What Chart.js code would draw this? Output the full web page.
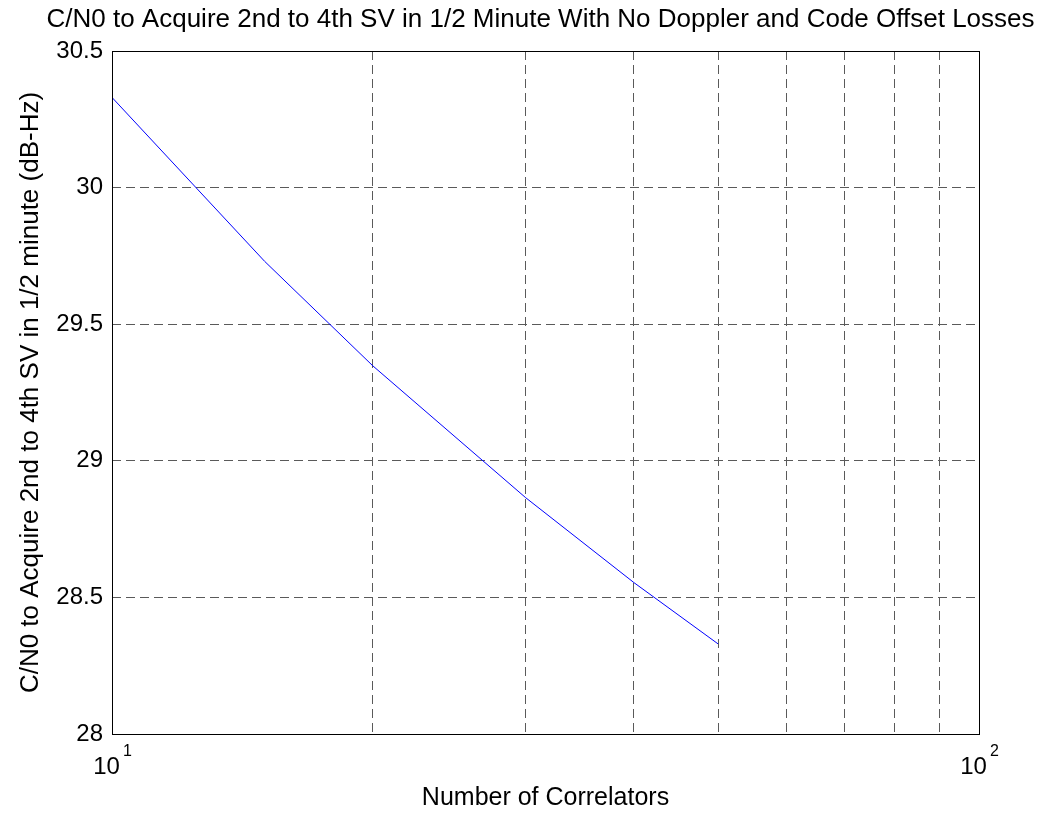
<!DOCTYPE html>
<html>
<head>
<meta charset="utf-8">
<script src="https://cdn.jsdelivr.net/npm/chart.js@4"></script>
<style>
  html, body { margin: 0; padding: 0; background: #fff; }
  #wrap { width: 1043px; height: 814px; }
</style>
</head>
<body>
<div id="wrap"><canvas id="graph_cn0"></canvas></div>
<script>
// data
const correlators = [10, 15, 20, 30, 40, 50];
const cn0Values = [30.33, 29.73, 29.347, 28.865, 28.554, 28.33];
const yTicks = [28, 28.5, 29, 29.5, 30, 30.5];
const xGridTicks = [10, 20, 30, 40, 50, 60, 70, 80, 90, 100];
const xDecades = [10, 100];
const titleText = 'C/N0 to Acquire 2nd to 4th SV in 1/2 Minute With No Doppler and Code Offset Losses';

const FONT = "'Liberation Sans', Arial, sans-serif";

const canvas_cn0 = document.getElementById('graph_cn0');
const ctx_cn0 = canvas_cn0.getContext('2d');

// box around the axes, title over the axes, 10^n labels with superscripts
const matlabAxes = {
  id: 'matlabAxes',
  afterDraw(chart) {
    const c = chart.ctx;
    const a = chart.chartArea;
    const xs = chart.scales.x;
    c.save();
    c.strokeStyle = '#000';
    c.lineWidth = 1;
    c.strokeRect(a.left + 0.5, a.top + 0.5, a.right - a.left, a.bottom - a.top);
    c.fillStyle = '#000';

    c.font = '26px ' + FONT;
    c.textAlign = 'center';
    c.textBaseline = 'middle';
    c.fillText(titleText, (a.left + a.right) / 2 - 5, 20);

    xDecades.forEach(v => {
      const px = xs.getPixelForValue(v);
      const exp = String(Math.round(Math.log10(v)));
      c.font = '24px ' + FONT;
      const w1 = c.measureText('10').width;
      c.font = '16px ' + FONT;
      const w2 = c.measureText(exp).width;
      const x0 = px - (w1 + w2 + 2) / 2;
      c.textBaseline = 'alphabetic';
      c.textAlign = 'left';
      c.font = '24px ' + FONT;
      c.fillText('10', x0, a.bottom + 40);
      c.font = '16px ' + FONT;
      c.fillText(exp, x0 + w1 + 3, a.bottom + 22);
    });
    c.restore();
  }
};

const config_cn0 = {
  type: 'line',
  data: {
    datasets: [{
      label: 'C/N0',
      data: correlators.map((x, i) => ({ x: x, y: cn0Values[i] })),
      borderColor: '#0000ff',
      borderWidth: 1,
      pointRadius: 0,
      tension: 0,
      fill: false
    }]
  },
  options: {
    responsive: false,
    animation: false,
    events: [],
    layout: { padding: { left: 0, right: 64, top: 51, bottom: 0 } },
    plugins: {
      legend: { display: false },
      tooltip: { enabled: false },
      title: { display: false }
    },
    scales: {
      x: {
        type: 'logarithmic',
        min: 10,
        max: 100,
        afterFit(scale) { scale.height = 80; },
        afterBuildTicks(scale) { scale.ticks = xGridTicks.map(v => ({ value: v })); },
        grid: {
          color: '#5a5a5a',
          lineWidth: 1,
          drawTicks: false
        },
        border: { display: false, dash: [9, 5] },
        ticks: {
          callback: () => '',
          display: false
        },
        title: {
          display: true,
          text: 'Number of Correlators',
          color: '#000',
          font: { family: FONT, size: 25 },
          padding: { top: 0, bottom: 1 }
        }
      },
      y: {
        min: 28,
        max: 30.5,
        afterFit(scale) { scale.width = 112; },
        afterBuildTicks(scale) { scale.ticks = yTicks.map(v => ({ value: v })); },
        grid: {
          color: '#5a5a5a',
          lineWidth: 1,
          drawTicks: false
        },
        border: { display: false, dash: [9, 5] },
        ticks: {
          color: '#000',
          font: { family: FONT, size: 24 },
          padding: 9,
          callback: v => String(v)
        },
        title: {
          display: true,
          text: 'C/N0 to Acquire 2nd to 4th SV in 1/2 minute (dB-Hz)',
          color: '#000',
          font: { family: FONT, size: 26 },
          padding: { top: 15, bottom: 0 }
        }
      }
    }
  },
  plugins: [matlabAxes]
};

canvas_cn0.width = 1043;
canvas_cn0.height = 814;
const cn0Chart = new Chart(ctx_cn0, config_cn0);
</script>
</body>
</html>
